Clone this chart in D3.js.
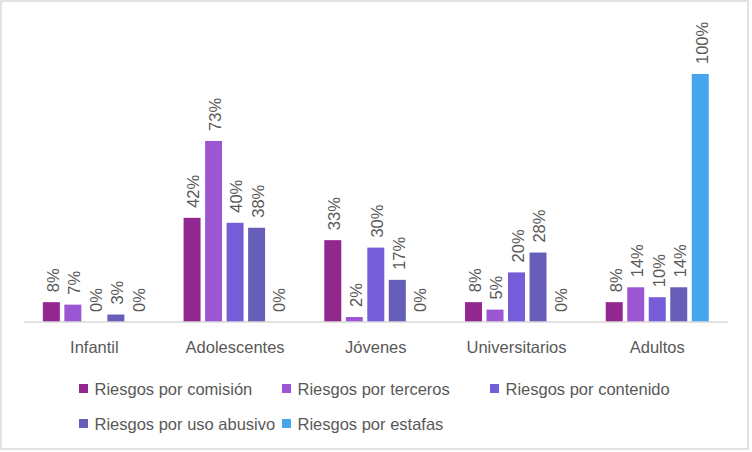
<!DOCTYPE html>
<html>
<head>
<meta charset="utf-8">
<script src="https://cdn.jsdelivr.net/npm/d3@7"></script>
<style>
  body { margin: 0; background: #fff; }
  svg text { font-family: "Liberation Sans", Arial, sans-serif; fill: #595959; }
</style>
</head>
<body>
<div id="chart"></div>
<script>
// data
var categories = ["Infantil", "Adolescentes", "Jóvenes", "Universitarios", "Adultos"];
var series = ["Riesgos por comisión", "Riesgos por terceros", "Riesgos por contenido",
              "Riesgos por uso abusivo", "Riesgos por estafas"];
var comision  = [8, 42, 33, 8, 8];
var terceros  = [7, 73, 2, 5, 14];
var contenido = [0, 40, 30, 20, 10];
var abusivo   = [3, 38, 17, 28, 14];
var estafas   = [0, 0, 0, 0, 100];
var colors = ["#92278F", "#9B57D3", "#755DD9", "#665EB8", "#45A5ED"];

var values = [comision, terceros, contenido, abusivo, estafas];

var width = 752, height = 452;
var svg = d3.select("#chart").append("svg")
    .attr("width", width)
    .attr("height", height);

// outer border
svg.append("rect")
    .attr("x", 1).attr("y", 1)
    .attr("width", 747).attr("height", 448)
    .attr("fill", "none")
    .attr("stroke", "#d9d9d9")
    .attr("stroke-width", 1.5);

var x0 = d3.scaleBand().domain(categories).range([24, 727.6]).padding(0);
var x1 = d3.scaleBand().domain(series).range([-51.5, 51.5]).paddingInner(0.21).paddingOuter(0);
var y = d3.scaleLinear().domain([0, 100]).range([322, 74]);

var rows = [];
categories.forEach(function(c, i) {
  series.forEach(function(s, j) {
    rows.push({ cat: c, ser: s, idx: j, v: values[j][i] });
  });
});

var g = svg.append("g");

g.selectAll("rect.bar")
  .data(rows)
  .enter().append("rect")
    .attr("class", "bar")
    .attr("x", function(d) { return x0(d.cat) + x0.bandwidth() / 2 + x1(d.ser); })
    .attr("y", function(d) { return y(d.v); })
    .attr("width", x1.bandwidth())
    .attr("height", function(d) { return y(0) - y(d.v); })
    .attr("fill", function(d) { return colors[d.idx]; });

// axis line
svg.append("line")
    .attr("x1", x0.range()[0]).attr("x2", x0.range()[1])
    .attr("y1", y(0)).attr("y2", y(0))
    .attr("stroke", "#d9d9d9")
    .attr("stroke-width", 1.5);

// data labels, rotated
g.selectAll("text.lbl")
  .data(rows)
  .enter().append("text")
    .attr("class", "lbl")
    .attr("transform", function(d) {
      var cx = x0(d.cat) + x0.bandwidth() / 2 + x1(d.ser) + x1.bandwidth() / 2 + 1.5;
      return "translate(" + cx + "," + (y(d.v) - 10) + ") rotate(-90)";
    })
    .attr("dy", "0.35em")
    .attr("text-anchor", "start")
    .style("font-size", "16.5px")
    .text(function(d) { return d.v + "%"; });

// category labels
svg.append("g").selectAll("text")
  .data(categories)
  .enter().append("text")
    .attr("x", function(d) { return x0(d) + x0.bandwidth() / 2; })
    .attr("y", 353)
    .attr("text-anchor", "middle")
    .style("font-size", "16.5px")
    .text(function(d) { return d; });

// legend (Excel style, two rows)
var legendPos = [[79, 389], [282, 389], [490, 389], [79, 424], [282, 424]];
var leg = svg.append("g").selectAll("g")
  .data(series)
  .enter().append("g")
    .attr("transform", function(d, i) { return "translate(" + legendPos[i][0] + "," + legendPos[i][1] + ")"; });

leg.append("rect")
    .attr("x", 0).attr("y", -5)
    .attr("width", 9).attr("height", 9)
    .attr("fill", function(d, i) { return colors[i]; });

leg.append("text")
    .attr("x", 15.5)
    .attr("y", 0)
    .attr("dy", "0.35em")
    .style("font-size", "16.5px")
    .text(function(d) { return d; });
</script>
</body>
</html>
